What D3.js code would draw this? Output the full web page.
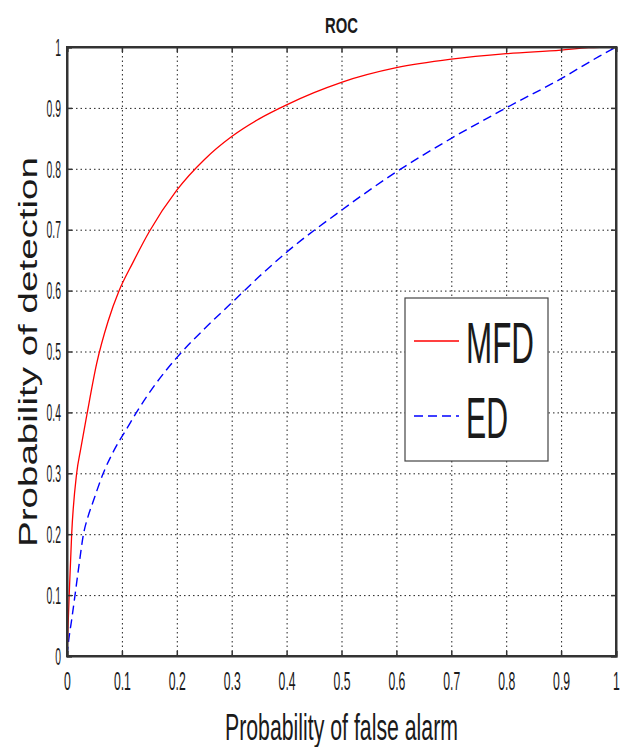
<!DOCTYPE html>
<html>
<head>
<meta charset="utf-8">
<script src="https://cdn.jsdelivr.net/npm/d3@7"></script>
<style>
    body { margin: 0; background: #fff; }
    text { font-family: "Liberation Sans", Arial, sans-serif; fill: #1a1a1a; }
</style>
</head>
<body>
<div id="chart"></div>
<script>
// ROC curve data (false alarm, detection)
var mfdFa = [0, 0.002, 0.004, 0.0085, 0.0176, 0.025, 0.036, 0.054, 0.075, 0.095, 0.12, 0.15, 0.2, 0.25, 0.3, 0.35, 0.4, 0.45, 0.5, 0.6, 0.7, 0.8, 0.9, 0.95, 1];
var mfdPd = [0, 0.05, 0.1, 0.2, 0.3, 0.34, 0.395, 0.48, 0.55, 0.6, 0.646, 0.697, 0.765, 0.815, 0.853, 0.882, 0.905, 0.925, 0.942, 0.966, 0.98, 0.989, 0.995, 0.999, 1];

var edFa = [0, 0.003, 0.0086, 0.0146, 0.022, 0.03, 0.038, 0.047, 0.066, 0.087, 0.11, 0.13, 0.16, 0.2, 0.25, 0.3, 0.35, 0.4, 0.5, 0.6, 0.7, 0.8, 0.9, 0.97, 1];
var edPd = [0, 0.025, 0.06, 0.1, 0.15, 0.2, 0.228, 0.252, 0.3, 0.34, 0.375, 0.405, 0.445, 0.49, 0.537, 0.58, 0.623, 0.663, 0.732, 0.795, 0.85, 0.9, 0.948, 0.985, 1];

var tickValues = [0, 0.1, 0.2, 0.3, 0.4, 0.5, 0.6, 0.7, 0.8, 0.9, 1];
var seriesNames = ["MFD", "ED"];

// layout
var width = 629, height = 747;
var margin = { left: 67, top: 47, right: 13, bottom: 91 };
var w = width - margin.left - margin.right;
var h = height - margin.top - margin.bottom;

var svg = d3.select("#chart").append("svg")
    .attr("width", width)
    .attr("height", height);

svg.append("rect").attr("width", width).attr("height", height).attr("fill", "#fff");

var g = svg.append("g").attr("transform", "translate(" + margin.left + "," + margin.top + ")");

var x = d3.scaleLinear().domain([0, 1]).range([0, w]);
var y = d3.scaleLinear().domain([0, 1]).range([h, 0]);

var fmt = function (d) { return d === 0 || d === 1 ? String(d) : d3.format(".1f")(d); };

// dotted grid
g.append("g")
    .attr("transform", "translate(0," + h + ")")
    .call(d3.axisBottom(x).tickValues(tickValues.slice(1, -1)).tickSize(-h).tickFormat(""))
    .call(function (a) { a.select(".domain").remove(); })
    .selectAll("line")
    .attr("stroke", "#222").attr("stroke-width", 1).attr("stroke-dasharray", "1.5,3");

g.append("g")
    .call(d3.axisLeft(y).tickValues(tickValues.slice(1, -1)).tickSize(-w).tickFormat(""))
    .call(function (a) { a.select(".domain").remove(); })
    .selectAll("line")
    .attr("stroke", "#222").attr("stroke-width", 1).attr("stroke-dasharray", "1.5,3");

// curves
g.append("clipPath").attr("id", "clip")
    .append("rect").attr("x", -1).attr("y", -2).attr("width", w + 2).attr("height", h + 3);

var line = d3.line()
    .x(function (d) { return x(d[0]); })
    .y(function (d) { return y(d[1]); })
    .curve(d3.curveMonotoneX);

var mfd = d3.zip(mfdFa, mfdPd);
var ed = d3.zip(edFa, edPd);

g.append("path").datum(ed)
    .attr("clip-path", "url(#clip)")
    .attr("d", line)
    .attr("fill", "none")
    .attr("stroke", "#0000ff")
    .attr("stroke-width", 1.4)
    .attr("stroke-dasharray", "9,5");

g.append("path").datum(mfd)
    .attr("clip-path", "url(#clip)")
    .attr("d", line)
    .attr("fill", "none")
    .attr("stroke", "#ff0000")
    .attr("stroke-width", 1.3);

// axes with inward ticks (matlab style)
var sxX = 0.47, sxY = 0.45;

var xAxis = g.append("g")
    .attr("transform", "translate(0," + h + ")")
    .call(d3.axisBottom(x).tickValues(tickValues).tickSize(-5).tickFormat(fmt));
xAxis.selectAll("text")
    .attr("y", 34).attr("dy", 0)
    .attr("transform", "scale(" + sxX + ",1)")
    .style("font-size", "26px");

var yAxis = g.append("g")
    .call(d3.axisLeft(y).tickValues(tickValues).tickSize(-5).tickFormat(fmt));
yAxis.selectAll("text")
    .attr("x", -6 / sxY).attr("dy", "0.36em")
    .attr("transform", "scale(" + sxY + ",1)")
    .style("font-size", "23px");

g.append("g")
    .call(d3.axisTop(x).tickValues(tickValues).tickSize(-5).tickFormat(""));
g.append("g")
    .attr("transform", "translate(" + w + ",0)")
    .call(d3.axisRight(y).tickValues(tickValues).tickSize(-5).tickFormat(""));

g.selectAll(".domain").attr("stroke", "#333").attr("stroke-width", 2);
g.selectAll(".tick line").filter(function () { return !this.getAttribute("stroke-dasharray"); })
    .attr("stroke", "#333").attr("stroke-width", 1.5);
g.selectAll(".tick text").attr("fill", "#1a1a1a");

// box outline
g.append("rect")
    .attr("width", w).attr("height", h)
    .attr("fill", "none").attr("stroke", "#333").attr("stroke-width", 2);

// titles
svg.append("text")
    .attr("x", margin.left + w / 2).attr("y", 33)
    .attr("text-anchor", "middle")
    .attr("textLength", 33).attr("lengthAdjust", "spacingAndGlyphs")
    .style("font-size", "22px").style("font-weight", "bold")
    .text("ROC");

svg.append("text")
    .attr("x", margin.left + w / 2).attr("y", 740)
    .attr("text-anchor", "middle")
    .attr("textLength", 233).attr("lengthAdjust", "spacingAndGlyphs")
    .style("font-size", "37px")
    .text("Probability of false alarm");

svg.append("text")
    .attr("transform", "translate(37,352) rotate(-90)")
    .attr("text-anchor", "middle")
    .attr("textLength", 390).attr("lengthAdjust", "spacingAndGlyphs")
    .style("font-size", "25px")
    .text("Probability of detection");

// legend
var legend = svg.append("g").attr("transform", "translate(405,298)");
legend.append("rect")
    .attr("width", 143).attr("height", 163)
    .attr("fill", "#fff").attr("stroke", "#444").attr("stroke-width", 1.2);

var legendItems = [
    { name: seriesNames[0], color: "#ff0000", dash: null, y: 43, width: 68 },
    { name: seriesNames[1], color: "#0000ff", dash: "9,5", y: 118, width: 42 }
];

var li = legend.selectAll(".item").data(legendItems).enter().append("g")
    .attr("transform", function (d) { return "translate(0," + d.y + ")"; });

li.append("line")
    .attr("x1", 9).attr("x2", 54)
    .attr("stroke", function (d) { return d.color; })
    .attr("stroke-width", 1.3)
    .attr("stroke-dasharray", function (d) { return d.dash; });

li.append("text")
    .attr("x", 61).attr("y", 22)
    .attr("textLength", function (d) { return d.width; })
    .attr("lengthAdjust", "spacingAndGlyphs")
    .style("font-size", "58px")
    .text(function (d) { return d.name; });
</script>
</body>
</html>
